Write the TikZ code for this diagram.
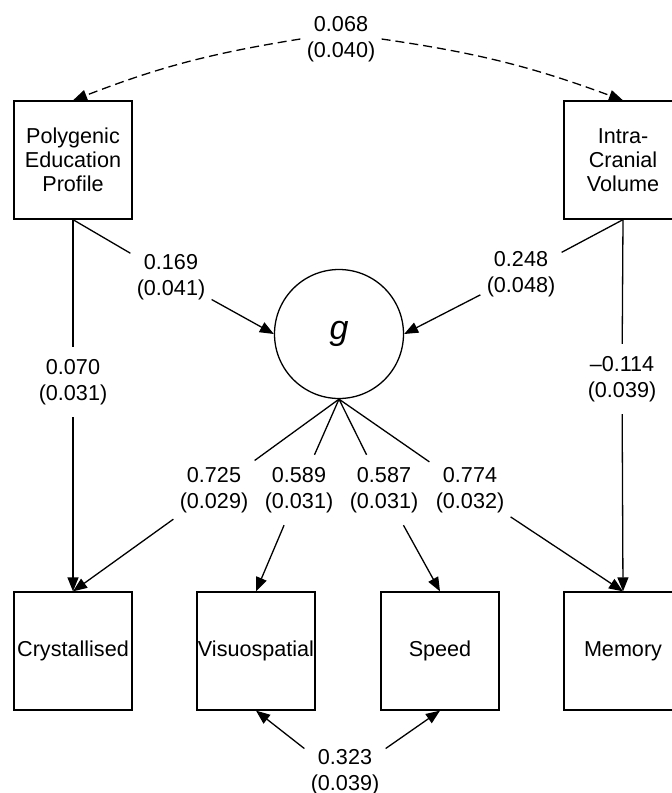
\documentclass[tikz,border=0pt]{standalone}
\usepackage{fontspec}
\setmainfont{Liberation Sans}
\usetikzlibrary{arrows.meta}
\begin{document}
\begin{tikzpicture}[x=0.5pt,y=0.5pt,
  box/.style={draw,line width=0.65pt,minimum width=59pt,minimum height=59pt,inner sep=0pt,align=center,font=\fontsize{10.8}{12}\selectfont},
  lat/.style={draw,circle,line width=0.65pt,minimum size=64.5pt,inner sep=0pt,font=\fontsize{17}{20}\selectfont\itshape},
  coef/.style={align=center,inner xsep=3pt,inner ysep=6pt,font=\fontsize{10.8}{13}\selectfont},
  plain/.style={line width=0.65pt},
  arr/.style={line width=0.65pt,-{Triangle[length=7pt,width=5.5pt]}},
  cov/.style={line width=0.65pt,dash pattern=on 4.5pt off 2.5pt,-{Triangle[length=7pt,width=5.5pt]}}
]
\fill[white] (0,0) rectangle (672,-793);
\clip (0,0) rectangle (672,-793);

% observed and latent variables
\node[box] (pep) at (73,-160) {Polygenic\\Education\\Profile};
\node[box] (icv) at (623,-160) {Intra-\\Cranial\\Volume};
\node[lat] (g) at (339,-334) {g};
\node[box] (cry) at (73,-651) {Crystallised};
\node[box] (vis) at (256,-651) {Visuospatial};
\node[box] (spd) at (440,-651) {Speed};
\node[box] (mem) at (623,-651) {Memory};

% coefficient labels
\node[coef] (l068) at (341,-39) {0.068\\(0.040)};
\node[coef] (l169) at (171,-277) {0.169\\(0.041)};
\node[coef] (l248) at (521,-274) {0.248\\(0.048)};
\node[coef] (l070) at (73,-382) {0.070\\(0.031)};
\node[coef] (l114) at (622,-379) {–0.114\\(0.039)};
\node[coef] (l725) at (214,-490) {0.725\\(0.029)};
\node[coef] (l589) at (299,-490) {0.589\\(0.031)};
\node[coef] (l587) at (384,-490) {0.587\\(0.031)};
\node[coef] (l774) at (470,-490) {0.774\\(0.032)};
\node[coef] (l323) at (345,-772) {0.323\\(0.039)};

% covariance between predictors
\draw[cov] (l068.west) to[bend right=6] (pep.north);
\draw[cov] (l068.east) to[bend left=6] (icv.north);

% predictors to g
\draw[plain] (pep.south) -- (l169);
\draw[arr] (l169) -- (g.west);
\draw[plain] (icv.south) -- (l248);
\draw[arr] (l248) -- (g.east);

% direct effects
\draw[plain] (pep.south) -- (l070);
\draw[arr] (l070) -- (cry.north);
\draw[plain] (icv.south) -- (l114);
\draw[arr] (l114) -- (mem.north);

% loadings
\draw[plain] (g.south) -- (l725);
\draw[arr] (l725) -- (cry.north);
\draw[plain] (g.south) -- (l589);
\draw[arr] (l589) -- (vis.north);
\draw[plain] (g.south) -- (l587);
\draw[arr] (l587) -- (spd.north);
\draw[plain] (g.south) -- (l774);
\draw[arr] (l774) -- (mem.north);

% residual covariance
\draw[arr] (l323.150) -- (vis.south);
\draw[arr] (l323.30) -- (spd.south);
\end{tikzpicture}
\end{document}
